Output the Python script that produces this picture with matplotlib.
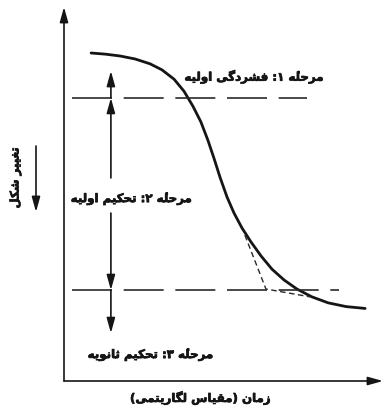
import matplotlib
matplotlib.use("Agg")
import matplotlib.pyplot as plt
import matplotlib.patheffects as pe
from matplotlib.patches import FancyArrowPatch

# ---------------------------------------------------------------------------
# Minimal Arabic-script shaping (contextual forms + right-to-left ordering)
# ---------------------------------------------------------------------------
# char: (isolated, final, initial, medial); right-joining letters have no
# initial/medial forms.
FORMS = {
    "ا": ("\uFE8D", "\uFE8E", None, None),
    "ت": ("\uFE95", "\uFE96", "\uFE97", "\uFE98"),
    "ث": ("\uFE99", "\uFE9A", "\uFE9B", "\uFE9C"),
    "ح": ("\uFEA1", "\uFEA2", "\uFEA3", "\uFEA4"),
    "د": ("\uFEA9", "\uFEAA", None, None),
    "ر": ("\uFEAD", "\uFEAE", None, None),
    "ز": ("\uFEAF", "\uFEB0", None, None),
    "س": ("\uFEB1", "\uFEB2", "\uFEB3", "\uFEB4"),
    "ش": ("\uFEB5", "\uFEB6", "\uFEB7", "\uFEB8"),
    "غ": ("\uFECD", "\uFECE", "\uFECF", "\uFED0"),
    "ف": ("\uFED1", "\uFED2", "\uFED3", "\uFED4"),
    "ق": ("\uFED5", "\uFED6", "\uFED7", "\uFED8"),
    "ل": ("\uFEDD", "\uFEDE", "\uFEDF", "\uFEE0"),
    "م": ("\uFEE1", "\uFEE2", "\uFEE3", "\uFEE4"),
    "ن": ("\uFEE5", "\uFEE6", "\uFEE7", "\uFEE8"),
    "ه": ("\uFEE9", "\uFEEA", "\uFEEB", "\uFEEC"),
    "و": ("\uFEED", "\uFEEE", None, None),
    "ک": ("\uFB8E", "\uFB8F", "\uFB90", "\uFB91"),
    "گ": ("\uFB92", "\uFB93", "\uFB94", "\uFB95"),
    "ی": ("\uFBFC", "\uFBFD", "\uFBFE", "\uFBFF"),
}
MARKS = {"\u0654"}          # hamza above (heh + hamza = ezafe heh)
MIRROR = {"(": ")", ")": "("}


def dual(c):
    return c in FORMS and FORMS[c][2] is not None


def rtl(text):
    # group base letters with their combining marks
    clusters = []
    for c in text:
        if c in MARKS and clusters:
            clusters[-1][1] += c
        else:
            clusters.append([c, ""])
    bases = [b for b, _ in clusters]
    shaped = []
    for i, (c, marks) in enumerate(clusters):
        if c not in FORMS:
            shaped.append(MIRROR.get(c, c) + marks)
            continue
        prev = bases[i - 1] if i > 0 else ""
        nxt = bases[i + 1] if i + 1 < len(bases) else ""
        join_prev = dual(prev)
        join_next = dual(c) and nxt in FORMS
        iso, fin, ini, med = FORMS[c]
        if join_prev and join_next:
            g = med
        elif join_prev:
            g = fin
        elif join_next:
            g = ini
        else:
            g = iso
        shaped.append(g + marks)
    return "".join(reversed(shaped))


# ---------------------------------------------------------------------------
# Data: schematic settlement curve, log(time) vs. height of the deformation
# ---------------------------------------------------------------------------
log_time = [0.85, 1.29, 1.76, 2.23, 2.70, 3.07, 3.45, 3.76, 4.04, 4.29,
            4.51, 4.70, 4.89, 5.11, 5.33, 5.58, 5.86, 6.18, 6.52, 6.90,
            7.30, 7.77, 8.28, 8.84, 9.44]
deform = [8.77, 8.74, 8.69, 8.61, 8.48, 8.32, 8.07, 7.75, 7.35, 6.93,
          6.44, 5.96, 5.45, 4.92, 4.49, 4.09, 3.72, 3.34, 2.99, 2.70,
          2.46, 2.25, 2.09, 1.99, 1.94]

# stage boundaries (horizontal dashed lines): level, x start, x end
boundary_levels = [7.57, 2.43]
boundary_x0 = [0.25, 0.25]
boundary_x1 = [7.62, 8.62]

# tangent construction at the end of primary consolidation
tangent_x = [5.67, 6.33, 7.71]
tangent_y = [3.90, 2.46, 2.25]

# stage arrows
arrow_x = 1.47
stage1_top = 8.29
stage2_gap = [5.43, 4.49]
stage3_bottom = 1.28

stage_labels = ["مرحله\u0654 ۱: فشردگی اولیه",
                "مرحله\u0654 ۲: تحکیم اولیه",
                "مرحله\u0654 ۳: تحکیم ثانویه"]
stage_label_x = [8.12, 2.10, 2.70]
stage_label_y = [8.13, 4.87, 0.70]

x_label = "زمان (مقیاس لگاریتمی)"
y_label = "تغییر شکل"

# ---------------------------------------------------------------------------
W, H = 385, 412
fig = plt.figure(figsize=(W / 100, H / 100), dpi=100)
ax = fig.add_axes([64 / W, (H - 381) / H, (383 - 64) / W, (381 - 7) / H])
ax.set_xlim(0, 10)
ax.set_ylim(0, 10)
ax.axis("off")

ink = "#151515"
heavy = [pe.withStroke(linewidth=0.5, foreground=ink)]
font = dict(fontweight="bold", family=["DejaVu Sans"], color=ink,
            path_effects=heavy)
arrow_kw = dict(arrowstyle="-|>,head_length=0.9,head_width=0.25",
                color=ink, lw=1.2, shrinkA=0, shrinkB=0, mutation_scale=10)

# coordinate axes with arrow heads
ax.annotate("", xy=(0, 1), xytext=(0, 0), xycoords="axes fraction",
            arrowprops=arrow_kw, annotation_clip=False)
ax.annotate("", xy=(1, 0), xytext=(0, 0), xycoords="axes fraction",
            arrowprops=arrow_kw, annotation_clip=False)

# main curve
ax.plot(log_time, deform, color=ink, lw=2.0, solid_capstyle="round",
        solid_joinstyle="round", clip_on=False)

# stage boundaries
for lvl, x0, x1 in zip(boundary_levels, boundary_x0, boundary_x1):
    ax.plot([x0, x1], [lvl, lvl], color="#2a2a2a", lw=1.2,
            dashes=(24, 7), clip_on=False)

# tangents
ax.plot(tangent_x, tangent_y, color="#2a2a2a", lw=1.0, dashes=(4, 2.5))

# stage arrows
upper, lower = boundary_levels
ax.annotate("", xy=(arrow_x, stage1_top), xytext=(arrow_x, upper),
            arrowprops=arrow_kw)
ax.annotate("", xy=(arrow_x, upper), xytext=(arrow_x, stage2_gap[0]),
            arrowprops=arrow_kw)
ax.annotate("", xy=(arrow_x, lower), xytext=(arrow_x, stage2_gap[1]),
            arrowprops=arrow_kw)
ax.annotate("", xy=(arrow_x, stage3_bottom), xytext=(arrow_x, lower),
            arrowprops=arrow_kw)

# stage labels
aligns = ["right", "center", "center"]
for txt, x, y, ha in zip(stage_labels, stage_label_x, stage_label_y, aligns):
    ax.text(x, y, rtl(txt), ha=ha, va="center", fontsize=8.5, **font)

# axis titles
fig.text(200 / W, 1 - 398 / H, rtl(x_label), ha="center", va="center",
         fontsize=8.5, **font)
fig.text(15 / W, 1 - 178 / H, rtl(y_label), ha="center", va="center",
         rotation=90, fontsize=8.5, **font)
fig.add_artist(FancyArrowPatch((36 / W, 1 - 146 / H), (36 / W, 1 - 212 / H),
                               transform=fig.transFigure, **arrow_kw))

fig.savefig("out.png", dpi=100, facecolor="white")
